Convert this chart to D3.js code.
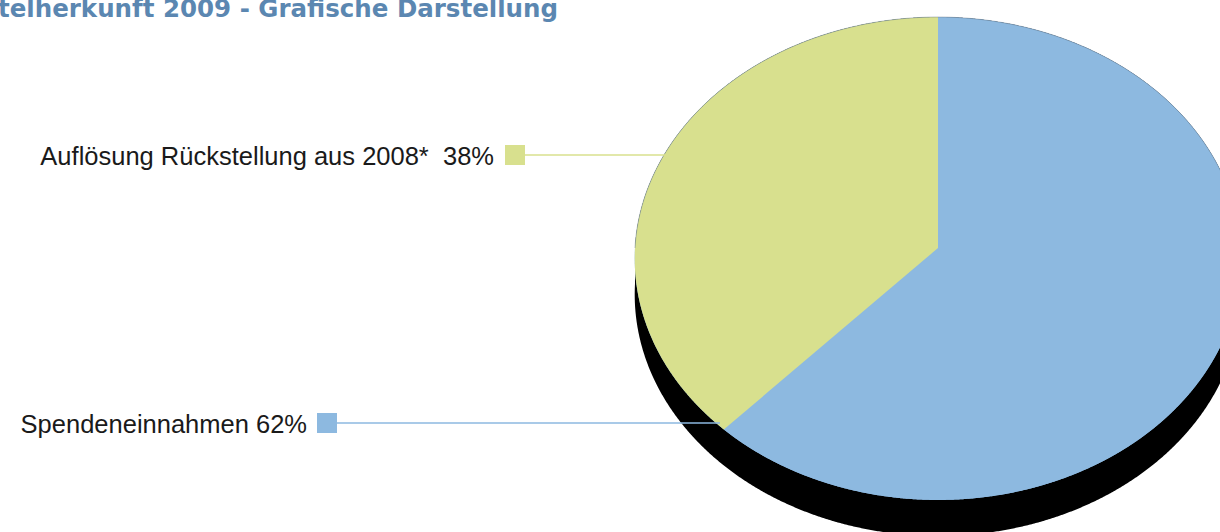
<!DOCTYPE html>
<html>
<head>
<meta charset="utf-8">
<script src="https://cdn.jsdelivr.net/npm/d3@7"></script>
<style>
  html, body { margin: 0; padding: 0; background: #ffffff; overflow: hidden; }
  svg { display: block; }
</style>
</head>
<body>
<script>
// ---- data ----
const title = "Mittelherkunft 2009 - Grafische Darstellung";
const categories = ["Spendeneinnahmen", "Auflösung Rückstellung aus 2008*"];
const values = [62, 38];
const valueLabels = ["62%", "38%"];
const labelSeparators = [" ", "  "];
const colors = ["#8db9e0", "#d8e08e"];

// ---- layout ----
const W = 1220, H = 532;
const svg = d3.select("body").append("svg").attr("width", W).attr("height", H);

const cx = 938, cy = 248;        // pie centre on screen
const rx = 303, ry = 241;        // projected radii
const persp = 0.0435;            // perspective strength
const depth = 36;                // thickness of pie wall

function proj(a, r = 1, dy = 0) {
  const u = r * Math.sin(a), v = r * Math.cos(a);
  const m = 1 / (1 + persp * v);
  return [cx + rx * u * m, cy - ry * v * m + dy];
}
const line = d3.line().curve(d3.curveLinearClosed);
const step = Math.PI / 720;

// ---- pie wall (extrusion) ----
const wallPts = [];
for (let a = Math.PI / 2; a <= 3 * Math.PI / 2 + 1e-9; a += step) wallPts.push(proj(a, 1, depth));
for (let a = 3 * Math.PI / 2; a <= 5 * Math.PI / 2 + 1e-9; a += step) wallPts.push(proj(a, 1, 0));
svg.append("path").attr("d", line(wallPts)).attr("fill", "#000000");

// ---- slices ----
const pie = d3.pie().sort(null).value(d => d.value).startAngle(0).endAngle(2 * Math.PI);
const data = categories.map((c, i) => ({ name: c, value: values[i], color: colors[i], label: valueLabels[i], sep: labelSeparators[i] }));
const arcs = pie(data);

// face underlay so slice seams do not show the dark wall
const facePts = [];
for (let a = 0; a < 2 * Math.PI; a += step) facePts.push(proj(a));
svg.append("path").attr("d", line(facePts)).attr("fill", colors[0]);

svg.selectAll("path.slice").data(arcs).enter().append("path")
  .attr("class", "slice")
  .attr("fill", d => d.data.color)
  .attr("d", d => {
    const pts = [proj(0, 0)];
    const n = Math.max(2, Math.ceil((d.endAngle - d.startAngle) / step));
    d3.range(n + 1).forEach(j => pts.push(proj(d.startAngle + (d.endAngle - d.startAngle) * j / n)));
    return line(pts);
  });

// subtle rim on the far edge
const rimPts = [];
for (let a = -Math.PI / 2; a <= Math.PI / 2 + 1e-9; a += step) rimPts.push(proj(a));
svg.append("path").attr("d", d3.line()(rimPts)).attr("fill", "none")
  .attr("stroke", "#5d6f80").attr("stroke-width", 0.7).attr("stroke-opacity", 0.6);

// ---- labels with leader lines ----
const labelLayout = {
  "Spendeneinnahmen": { textX: 307, y: 423, boxX: 317, lineEnd: 720 },
  "Auflösung Rückstellung aus 2008*": { textX: 494, y: 155, boxX: 505, lineEnd: 680 }
};

const lab = svg.selectAll("g.lab").data(arcs).enter().append("g").attr("class", "lab");
lab.append("line")
  .attr("x1", d => labelLayout[d.data.name].boxX + 20)
  .attr("x2", d => labelLayout[d.data.name].lineEnd)
  .attr("y1", d => labelLayout[d.data.name].y)
  .attr("y2", d => labelLayout[d.data.name].y)
  .attr("stroke", d => d.data.color).attr("stroke-width", 1.6);
lab.append("rect")
  .attr("x", d => labelLayout[d.data.name].boxX)
  .attr("y", d => labelLayout[d.data.name].y - 10)
  .attr("width", 20).attr("height", 20)
  .attr("fill", d => d.data.color);
lab.append("text")
  .attr("x", d => labelLayout[d.data.name].textX)
  .attr("y", d => labelLayout[d.data.name].y + 9.5)
  .attr("text-anchor", "end")
  .style("white-space", "pre")
  .attr("font-family", "'Liberation Sans', Arial, sans-serif")
  .attr("font-size", "25.5px")
  .attr("fill", "#1a1a1a")
  .text(d => d.data.name + d.data.sep + d.data.label);

// ---- title (partly outside the frame, as in the original) ----
svg.append("text")
  .attr("x", 558).attr("y", 17)
  .attr("text-anchor", "end")
  .attr("font-family", "'DejaVu Sans', sans-serif")
  .attr("font-weight", "bold")
  .attr("font-size", "24.5px")
  .attr("fill", "#5b87b1")
  .text(title);
</script>
</body>
</html>
